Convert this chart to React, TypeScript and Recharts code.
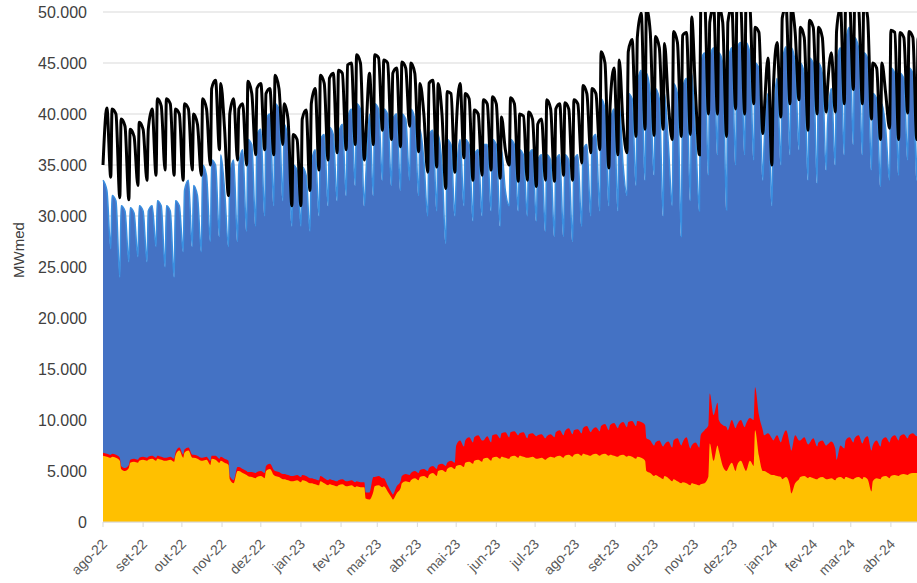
import { Area, CartesianGrid, ComposedChart, Line, XAxis, YAxis } from "recharts"

// days counted from Mon 1 Aug 2022
const monthTicks = [0, 31, 61, 92, 122, 153, 184, 212, 243, 273, 304, 334, 365, 396, 426, 457, 487, 518, 549, 578, 609]
const monthLabels = [
  "ago-22", "set-22", "out-22", "nov-22", "dez-22", "jan-23", "fev-23", "mar-23", "abr-23", "mai-23", "jun-23",
  "jul-23", "ago-23", "set-23", "out-23", "nov-23", "dez-23", "jan-24", "fev-24", "mar-24", "abr-24",
]
const yTicks = [0, 5, 10, 15, 20, 25, 30, 35, 40, 45, 50]

// one sample Mon / Thu / Sun per week, values in thousand MWmed
const sampleDays = Array.from({ length: 91 }, (_, w) => [7 * w, 7 * w + 3, 7 * w + 6]).flat()

// black line
const load = [
  35.0, 40.6, 33.8, 40.5, 40.0, 31.8, 39.5, 38.8, 31.6, 38.5, 37.8, 33.0,
  39.2, 38.5, 33.5, 38.5, 40.5, 34.0, 41.5, 40.8, 34.5, 41.5, 41.0, 34.0,
  40.5, 40.0, 33.5, 41.0, 40.5, 34.5, 40.0, 39.0, 34.0, 41.5, 40.5, 35.0,
  42.5, 43.3, 36.5, 43.0, 38.5, 32.0, 40.0, 41.5, 35.5, 40.5, 41.0, 35.0,
  43.2, 42.0, 36.0, 42.5, 43.0, 36.5, 42.0, 42.5, 36.0, 43.8, 42.5, 37.0,
  41.0, 39.5, 31.0, 38.0, 37.5, 31.0, 39.5, 40.4, 32.5, 41.0, 42.5, 34.5,
  43.8, 43.0, 35.5, 43.5, 44.0, 36.2, 44.3, 44.0, 36.5, 44.8, 45.0, 37.0,
  45.8, 45.0, 35.5, 37.5, 44.0, 37.0, 45.8, 45.5, 38.4, 45.3, 45.0, 37.5,
  44.0, 44.5, 36.8, 45.1, 44.5, 38.8, 45.0, 44.0, 36.3, 43.0, 40.0, 34.3,
  43.0, 43.3, 34.8, 43.0, 40.0, 32.7, 42.2, 42.0, 34.3, 38.5, 43.0, 35.7,
  42.0, 41.5, 33.5, 40.4, 40.0, 34.0, 41.4, 41.0, 34.5, 41.7, 41.0, 33.7,
  39.7, 36.5, 35.0, 41.6, 41.0, 33.4, 40.0, 39.8, 33.5, 40.2, 39.5, 32.9,
  39.0, 39.5, 33.5, 41.4, 40.5, 33.4, 40.5, 41.0, 34.0, 41.1, 40.5, 33.5,
  41.4, 41.0, 35.2, 42.8, 42.0, 36.2, 42.5, 42.0, 36.5, 46.1, 45.0, 34.7,
  40.9, 44.5, 36.0, 45.3, 39.0, 36.2, 46.1, 47.3, 37.8, 47.5, 49.9, 38.5,
  50.5, 48.0, 37.9, 47.6, 46.5, 38.5, 46.9, 41.0, 37.5, 48.1, 47.0, 37.8,
  47.7, 48.0, 38.0, 49.5, 42.0, 36.0, 50.5, 51.0, 40.0, 49.0, 50.5, 40.0,
  50.5, 49.0, 37.8, 49.0, 50.5, 40.5, 51.0, 50.5, 40.0, 51.0, 50.5, 41.0,
  48.5, 48.0, 38.1, 40.0, 45.5, 35.0, 42.0, 47.0, 39.7, 49.4, 50.5, 41.0,
  50.5, 48.0, 41.4, 48.5, 47.5, 38.4, 49.2, 48.5, 40.0, 48.5, 47.5, 40.2,
  42.5, 46.0, 40.2, 48.1, 50.5, 41.0, 51.0, 51.0, 42.4, 51.0, 50.5, 41.0,
  51.0, 49.5, 39.5, 45.0, 44.5, 37.5, 45.0, 42.0, 38.6, 48.2, 48.0, 37.5,
  48.0, 47.5, 40.1, 48.1, 47.5, 37.5, 47.5, 47.0, 38.0,
]

// top of the blue area
const blueTop = [
  33.5, 32.5, 26.8, 32.0, 31.5, 24.0, 31.0, 30.5, 25.5, 30.8, 30.3, 26.0,
  31.0, 30.5, 25.5, 30.5, 31.0, 27.0, 31.5, 31.0, 25.0, 31.0, 30.5, 24.0,
  31.5, 31.0, 26.5, 32.5, 33.5, 27.0, 33.0, 32.0, 26.5, 35.0, 34.0, 27.5,
  35.5, 35.0, 28.0, 36.0, 32.5, 27.0, 34.0, 35.5, 27.5, 35.0, 36.5, 28.5,
  37.5, 37.0, 29.0, 38.0, 38.5, 30.0, 39.5, 40.0, 31.0, 41.0, 40.5, 31.5,
  39.0, 37.5, 29.0, 35.0, 34.5, 29.0, 34.8, 34.0, 28.5, 35.0, 36.5, 30.0,
  37.5, 38.0, 31.0, 38.7, 38.0, 31.5, 38.0, 39.0, 32.0, 39.5, 40.5, 33.0,
  41.0, 40.5, 31.0, 33.5, 40.0, 32.0, 41.0, 40.5, 33.5, 40.5, 40.0, 33.0,
  39.5, 40.0, 32.5, 40.0, 39.5, 33.5, 40.5, 39.5, 32.0, 38.5, 35.5, 30.0,
  38.0, 38.4, 30.5, 38.0, 35.0, 27.3, 37.5, 37.0, 30.0, 33.5, 37.5, 31.0,
  37.5, 37.0, 29.5, 36.0, 36.5, 30.0, 37.0, 37.0, 30.5, 37.5, 37.0, 29.0,
  36.5, 32.5, 31.0, 37.5, 37.0, 30.5, 36.5, 36.0, 30.0, 36.0, 36.5, 29.5,
  35.5, 36.0, 28.5, 36.0, 35.5, 28.0, 35.5, 36.0, 28.0, 36.0, 35.5, 27.5,
  35.5, 36.0, 29.0, 36.5, 37.0, 30.0, 37.5, 38.0, 30.5, 41.5, 40.5, 31.0,
  39.0, 40.5, 30.5, 41.0, 35.0, 32.0, 42.0, 41.5, 33.0, 43.0, 44.3, 33.5,
  44.0, 42.0, 34.0, 42.5, 41.5, 30.0, 42.0, 37.0, 31.0, 43.0, 42.0, 28.0,
  42.5, 43.5, 31.5, 44.0, 38.0, 30.5, 45.0, 46.0, 34.0, 45.5, 46.5, 36.0,
  46.0, 45.0, 30.6, 45.0, 46.5, 35.0, 46.5, 47.0, 36.0, 47.0, 46.0, 35.5,
  45.0, 44.5, 33.5, 37.0, 42.0, 31.0, 38.0, 43.5, 35.0, 45.0, 46.6, 36.0,
  46.5, 45.0, 36.5, 45.0, 44.0, 33.5, 45.5, 45.0, 33.2, 45.0, 44.0, 34.5,
  39.0, 42.5, 35.0, 45.0, 46.5, 36.0, 47.0, 48.5, 37.0, 47.5, 46.5, 36.0,
  46.0, 45.5, 34.5, 42.0, 41.5, 32.9, 41.0, 38.5, 33.5, 44.5, 44.0, 34.0,
  44.0, 43.5, 35.5, 44.5, 44.0, 33.5, 44.0, 43.5, 34.0,
]

// top of the red band
const redTop = [
  6.8, 6.7, 6.6, 6.7, 6.6, 6.3, 5.5, 5.3, 5.6, 6.1, 6.2, 6.1,
  6.3, 6.4, 6.3, 6.4, 6.5, 6.3, 6.5, 6.4, 6.3, 6.3, 6.4, 6.2,
  6.8, 7.3, 6.6, 7.1, 7.3, 6.6, 6.6, 6.5, 6.3, 6.3, 6.4, 6.0,
  6.5, 6.5, 6.2, 6.4, 6.2, 6.0, 4.5, 4.1, 5.4, 5.4, 5.2, 5.0,
  4.9, 4.9, 4.8, 4.9, 5.0, 4.8, 5.5, 5.7, 5.1, 5.0, 4.9, 4.7,
  4.7, 4.6, 4.5, 4.5, 4.6, 4.4, 4.6, 4.5, 4.3, 4.3, 4.2, 4.1,
  4.5, 4.3, 4.1, 4.2, 4.1, 4.0, 4.1, 4.2, 4.0, 4.0, 4.1, 3.9,
  4.0, 3.9, 3.9, 2.9, 2.9, 4.4, 4.4, 4.5, 4.3, 4.3, 3.6, 2.9,
  2.7, 3.5, 4.0, 4.5, 4.7, 4.6, 4.8, 5.0, 4.8, 5.1, 5.2, 5.0,
  5.3, 5.5, 5.2, 5.6, 5.7, 5.5, 5.8, 6.0, 5.8, 7.5, 8.0, 7.4,
  8.0, 8.3, 7.8, 8.3, 8.5, 8.0, 8.0, 8.4, 7.8, 8.5, 8.6, 8.2,
  8.7, 8.8, 8.3, 8.8, 8.9, 8.5, 8.7, 8.8, 8.2, 8.6, 8.7, 8.4,
  8.5, 8.6, 8.2, 8.4, 8.6, 8.3, 8.8, 9.0, 8.5, 8.9, 9.2, 8.6,
  9.0, 9.1, 8.7, 9.2, 9.4, 8.8, 9.0, 9.3, 8.9, 9.4, 9.6, 9.0,
  9.5, 9.7, 9.2, 9.5, 9.8, 9.3, 9.8, 9.9, 9.4, 9.9, 9.8, 9.5,
  8.2, 8.0, 7.5, 7.8, 8.0, 7.4, 7.6, 7.9, 7.3, 8.0, 8.2, 7.5,
  7.8, 8.3, 7.2, 7.5, 7.8, 7.3, 8.5, 9.0, 9.5, 12.6, 10.5, 11.7,
  10.0, 9.5, 9.3, 9.0, 10.0, 9.2, 9.5, 10.0, 9.3, 9.6, 10.2, 10.0,
  13.2, 10.5, 9.0, 8.5, 8.7, 8.2, 8.0, 8.5, 7.8, 8.2, 9.0, 7.5,
  7.0, 8.5, 8.0, 8.0, 8.3, 7.6, 7.7, 8.2, 7.4, 7.8, 8.0, 7.5,
  7.6, 7.9, 7.2, 6.1, 7.5, 7.2, 8.0, 8.3, 7.8, 8.2, 8.5, 7.7,
  8.0, 8.4, 7.0, 7.5, 8.0, 7.4, 8.0, 8.3, 7.8, 8.2, 8.5, 8.0,
  8.4, 8.6, 8.2, 8.5, 8.7, 8.4, 8.6, 8.7, 8.5,
]

// top of the yellow band
const yellowTop = [
  6.5, 6.4, 6.3, 6.4, 6.3, 6.0, 5.2, 5.0, 5.3, 5.8, 5.9, 5.8,
  6.0, 6.1, 6.0, 6.1, 6.2, 6.0, 6.2, 6.1, 6.0, 6.0, 6.1, 5.9,
  6.5, 7.0, 6.3, 6.8, 7.0, 6.3, 6.3, 6.2, 6.0, 6.0, 6.1, 5.6,
  6.2, 6.1, 5.8, 6.0, 5.8, 5.6, 4.2, 3.8, 5.0, 5.0, 4.8, 4.6,
  4.5, 4.4, 4.3, 4.4, 4.5, 4.3, 5.0, 5.2, 4.6, 4.5, 4.4, 4.2,
  4.2, 4.1, 4.0, 4.0, 4.1, 3.9, 4.1, 4.0, 3.8, 3.8, 3.7, 3.6,
  4.0, 3.8, 3.6, 3.7, 3.6, 3.5, 3.6, 3.7, 3.5, 3.5, 3.6, 3.4,
  3.5, 3.4, 3.4, 2.3, 2.2, 3.0, 3.5, 3.6, 3.4, 3.5, 3.0, 2.4,
  2.2, 2.8, 3.3, 3.8, 4.0, 3.9, 4.1, 4.3, 4.1, 4.4, 4.5, 4.3,
  4.6, 4.8, 4.5, 5.0, 5.1, 4.9, 5.2, 5.4, 5.2, 5.5, 5.6, 5.4,
  5.8, 5.9, 5.7, 6.0, 6.1, 5.9, 6.2, 6.3, 6.0, 6.3, 6.4, 6.2,
  6.4, 6.3, 6.2, 6.4, 6.5, 6.3, 6.5, 6.4, 6.3, 6.3, 6.4, 6.2,
  6.2, 6.3, 6.1, 6.2, 6.4, 6.3, 6.4, 6.5, 6.3, 6.5, 6.6, 6.4,
  6.6, 6.7, 6.5, 6.7, 6.6, 6.5, 6.6, 6.7, 6.5, 6.6, 6.7, 6.5,
  6.6, 6.5, 6.4, 6.5, 6.6, 6.4, 6.5, 6.4, 6.2, 6.4, 6.3, 6.0,
  5.0, 4.8, 4.5, 4.6, 4.4, 4.2, 4.5, 4.3, 4.0, 4.2, 4.0, 3.8,
  3.9, 3.8, 3.6, 3.8, 3.7, 3.6, 3.7, 3.8, 4.5, 7.7, 6.0, 7.5,
  7.0, 5.5, 5.0, 5.2, 5.8, 5.0, 5.5, 6.0, 5.2, 5.0, 6.0, 5.5,
  9.0, 6.5, 5.0, 5.0, 4.8, 4.6, 4.6, 4.5, 4.4, 4.2, 4.4, 3.5,
  2.8, 3.8, 4.2, 4.4, 4.5, 4.3, 4.4, 4.3, 4.2, 4.3, 4.4, 4.2,
  4.2, 4.3, 4.1, 4.3, 4.4, 4.2, 4.4, 4.3, 4.2, 4.3, 4.4, 4.2,
  4.4, 4.2, 3.0, 4.0, 4.3, 4.2, 4.4, 4.5, 4.3, 4.5, 4.6, 4.5,
  4.6, 4.7, 4.6, 4.7, 4.8, 4.8, 4.8, 4.9, 4.8,
]

const rows = sampleDays.map((d, i) => ({
  d,
  load: load[i],
  blue: blueTop[i],
  red: redTop[i],
  yellow: yellowTop[i],
}))

const font = "'Liberation Sans', Arial, sans-serif"

const MonthTick = ({ x, y, payload }: any) => {
  const idx = monthTicks.indexOf(payload.value)
  const ax = x + 5
  const ay = y + 16
  return (
    <text
      x={ax}
      y={ay}
      transform={`rotate(-45 ${ax} ${ay})`}
      textAnchor="end"
      fontSize={14}
      fontFamily={font}
      fill="#595959"
    >
      {monthLabels[idx]}
    </text>
  )
}

const fmtY = (v: number) => (v === 0 ? "0" : `${v}.000`)

export default function App() {
  return (
    <div style={{ position: "fixed", left: 0, top: 0, width: 917, height: 583, overflow: "hidden", background: "#fff" }}>
      <ComposedChart width={931} height={583} data={rows} margin={{ top: 12, right: 0, bottom: 0, left: 0 }}>
        <CartesianGrid vertical={false} stroke="#d9d9d9" />
        <XAxis
          dataKey="d"
          type="number"
          domain={[0, 640]}
          ticks={monthTicks}
          interval={0}
          height={61}
          tick={<MonthTick />}
          tickSize={5}
          axisLine={{ stroke: "#d9d9d9" }}
          tickLine={{ stroke: "#d9d9d9" }}
        />
        <YAxis
          type="number"
          domain={[0, 50]}
          ticks={yTicks}
          allowDataOverflow
          width={103}
          tickFormatter={fmtY}
          tick={{ fontSize: 16, fill: "#404040", fontFamily: font }}
          tickSize={6}
          tickMargin={10}
          tickLine={false}
          axisLine={false}
          label={{
            content: () => (
              <text
                x={18}
                y={250}
                transform="rotate(-90 18 250)"
                textAnchor="middle"
                dominantBaseline="central"
                fontSize={15}
                fontFamily={font}
                fill="#404040"
              >
                MWmed
              </text>
            ),
          }}
        />
        <Area
          type="monotone"
          dataKey="blue"
          fill="#4472C4"
          fillOpacity={1}
          stroke="#3A8FE0"
          strokeWidth={1.5}
          dot={false}
          activeDot={false}
          isAnimationActive={false}
        />
        <Area
          type="monotone"
          dataKey="red"
          fill="#FF0000"
          fillOpacity={1}
          stroke="none"
          dot={false}
          activeDot={false}
          isAnimationActive={false}
        />
        <Area
          type="monotone"
          dataKey="yellow"
          fill="#FFC000"
          fillOpacity={1}
          stroke="none"
          dot={false}
          activeDot={false}
          isAnimationActive={false}
        />
        <Line
          type="monotone"
          dataKey="load"
          stroke="#000"
          strokeWidth={3}
          dot={false}
          activeDot={false}
          isAnimationActive={false}
        />
      </ComposedChart>
    </div>
  )
}
